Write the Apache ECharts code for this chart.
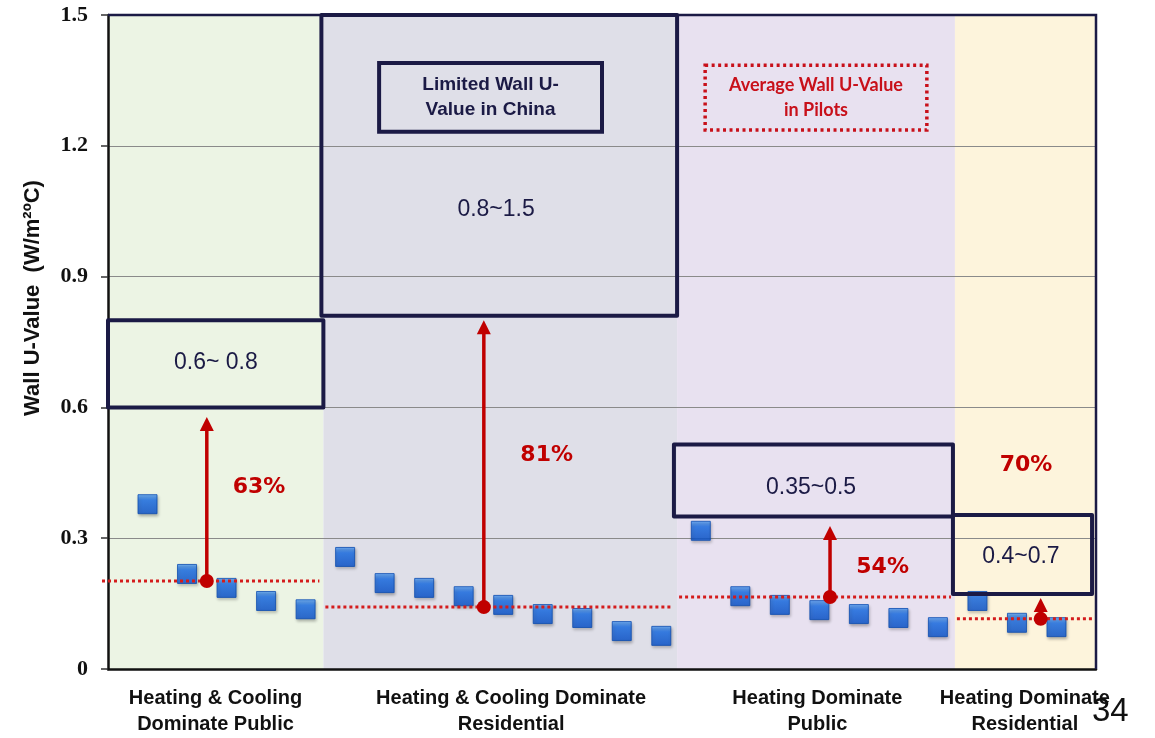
<!DOCTYPE html>
<html>
<head>
<meta charset="utf-8">
<script src="https://cdn.jsdelivr.net/npm/echarts@6/dist/echarts.min.js"></script>
<style>
  html, body { margin: 0; padding: 0; background: #ffffff; }
  #chart { width: 1155px; height: 738px; }
</style>
</head>
<body>
<div id="chart"></div>
<script>
// Building groups along the x axis (pilot index space)
const groupNames = [
  'Heating & Cooling\nDominate Public',
  'Heating & Cooling Dominate\nResidential',
  'Heating Dominate\nPublic',
  'Heating Dominate\nResidential'
];
const groupStart = [0, 5.45, 14.4, 21.43];
const groupEnd = [5.45, 14.4, 21.43, 25];
const groupLabelX = [2.72, 10.2, 17.95, 23.2];

// Wall U-value of each pilot building (W/m²ºC)
const hcPublic = [0.378, 0.218, 0.186, 0.156, 0.137];
const hcResidential = [0.257, 0.197, 0.186, 0.167, 0.147, 0.126, 0.117, 0.087, 0.076];
const hPublic = [0.317, 0.167, 0.147, 0.135, 0.126, 0.117, 0.096];
const hResidential = [0.156, 0.106, 0.096];

// Average pilot U-value of each group
const pilotAverage = [0.202, 0.142, 0.165, 0.115];

// Limited wall U-value ranges in China
const limitLabels = ['0.6~ 0.8', '0.8~1.5', '0.35~0.5', '0.4~0.7'];
const limitFrom = [0, 5.4, 14.32, 21.38];
const limitTo = [5.45, 14.4, 21.38, 24.9];
const limitLow = [0.6, 0.81, 0.35, 0.172];
const limitHigh = [0.8, 1.5, 0.515, 0.353];
const limitLabelX = [2.73, 9.82, 17.79, 23.1];
const limitLabelY = [0.702, 1.053, 0.417, 0.257];

// Reduction from the limit down to the pilot average
const reductionLabels = ['63%', '81%', '54%', '70%'];
const arrowX = [2.5, 9.51, 18.27, 23.6];
const arrowTop = [0.578, 0.80, 0.328, 0.163];
const reductionLabelX = [3.82, 11.1, 19.6, 23.23];
const reductionLabelY = [0.417, 0.491, 0.234, 0.468];

// Key boxes
const noteTexts = ['Limited Wall U-\nValue in China', 'Average Wall U-Value\nin Pilots'];
const noteFrom = [6.86, 15.11];
const noteTo = [12.5, 20.72];
const noteTop = [1.39, 1.385];
const noteBottom = [1.232, 1.236];

// Y axis ticks
const yMin = 0, yMax = 1.5, yStep = 0.3;
const xMin = 0, xMax = 25;

const regionColors = ['#ecf4e4', '#dfdfe8', '#e8e1f0', '#fdf4dc'];
const NAVY = '#1b1a45';
const RED = '#c00000';

const uGroups = [hcPublic, hcResidential, hPublic, hResidential];
const pilotPoints = [];
let k = 1;
uGroups.forEach(g => g.forEach(v => { pilotPoints.push([k, v]); k += 1; }));

const idx = arr => arr.map((_, i) => [i, 0]);

const chart = echarts.init(document.getElementById('chart'));

chart.setOption({
  animation: false,
  backgroundColor: '#ffffff',
  grid: { left: 108, right: 59, top: 15, bottom: 69 },
  xAxis: {
    type: 'value', min: xMin, max: xMax, z: 3,
    axisLine: { show: true, onZero: false, lineStyle: { color: '#111', width: 2.5 } },
    axisTick: { show: false }, axisLabel: { show: false }, splitLine: { show: false }
  },
  yAxis: {
    type: 'value', min: yMin, max: yMax, interval: yStep, z: 3,
    axisLine: { show: true, lineStyle: { color: '#111', width: 2.5 } },
    axisTick: { show: true, length: 7, lineStyle: { color: '#333', width: 1.5 } },
    axisLabel: {
      margin: 20, color: '#111',
      fontFamily: 'Liberation Serif', fontWeight: 'bold', fontSize: 22
    },
    splitLine: { show: true, lineStyle: { color: '#8a8a8a', width: 1.2 } }
  },
  graphic: [
    {
      type: 'text', x: 33, y: 298, rotation: Math.PI / 2,
      style: {
        text: 'Wall U-Value  (W/m²ºC)', align: 'center', verticalAlign: 'middle',
        font: 'bold 22px "Liberation Sans"', fill: '#111'
      }
    },
    {
      type: 'text', left: 1092, top: 695,
      style: { text: '34', font: '33px "Liberation Sans"', fill: '#111' }
    }
  ],
  series: [
    {
      // group background bands
      type: 'custom', z: 1, silent: true,
      data: idx(groupStart),
      encode: { x: -1, y: -1 },
      renderItem: (params, api) => {
        const i = params.dataIndex;
        const p0 = api.coord([groupStart[i], yMax]);
        const p1 = api.coord([groupEnd[i], yMin]);
        return {
          type: 'rect',
          shape: { x: p0[0], y: p0[1], width: p1[0] - p0[0], height: p1[1] - p0[1] },
          style: { fill: regionColors[i] }
        };
      }
    },
    {
      // plot frame, top and right
      type: 'custom', z: 4, silent: true,
      data: [[0, 0]],
      encode: { x: -1, y: -1 },
      renderItem: (params, api) => {
        const a = api.coord([xMin, yMax]);
        const b = api.coord([xMax, yMax]);
        const c = api.coord([xMax, yMin]);
        return {
          type: 'polyline',
          shape: { points: [a, b, c] },
          style: { stroke: NAVY, lineWidth: 2.5, fill: 'none' }
        };
      }
    },
    {
      // pilot buildings
      type: 'scatter', z: 5,
      data: pilotPoints,
      symbol: 'rect', symbolSize: 19,
      itemStyle: {
        color: new echarts.graphic.LinearGradient(0, 0, 0, 1, [
          { offset: 0, color: '#5aa8ff' },
          { offset: 0.3, color: '#1a70ec' },
          { offset: 1, color: '#0a54d0' }
        ]),
        borderColor: '#0d4cb0', borderWidth: 1,
        shadowBlur: 3, shadowColor: 'rgba(0,0,0,0.35)', shadowOffsetX: 1, shadowOffsetY: 2
      }
    },
    {
      // pilot average lines
      type: 'custom', z: 6, silent: true,
      data: idx(pilotAverage),
      encode: { x: -1, y: -1 },
      renderItem: (params, api) => {
        const i = params.dataIndex;
        const a = api.coord([groupStart[i], pilotAverage[i]]);
        const b = api.coord([groupEnd[i], pilotAverage[i]]);
        return {
          type: 'line',
          shape: { x1: a[0] + (i === 0 ? -6 : 2), y1: a[1], x2: b[0] - 4, y2: b[1] },
          style: { stroke: '#d41c1c', lineWidth: 3, lineDash: [3, 3] }
        };
      }
    },
    {
      // limit range boxes
      type: 'custom', z: 7, silent: true,
      data: idx(limitLabels),
      encode: { x: -1, y: -1 },
      renderItem: (params, api) => {
        const i = params.dataIndex;
        const p0 = api.coord([limitFrom[i], limitHigh[i]]);
        const p1 = api.coord([limitTo[i], limitLow[i]]);
        const t = api.coord([limitLabelX[i], limitLabelY[i]]);
        return {
          type: 'group',
          children: [
            {
              type: 'rect',
              shape: { x: p0[0], y: p0[1], width: p1[0] - p0[0], height: p1[1] - p0[1] },
              style: { fill: 'none', stroke: NAVY, lineWidth: 4, lineJoin: 'round' }
            },
            {
              type: 'text',
              style: {
                text: limitLabels[i], x: t[0], y: t[1], align: 'center', verticalAlign: 'middle',
                font: '23px "Liberation Sans"', fill: NAVY
              }
            }
          ]
        };
      }
    },
    {
      // reduction arrows
      type: 'custom', z: 8, silent: true,
      data: idx(arrowX),
      encode: { x: -1, y: -1 },
      renderItem: (params, api) => {
        const i = params.dataIndex;
        const base = api.coord([arrowX[i], pilotAverage[i]]);
        const tip = api.coord([arrowX[i], arrowTop[i]]);
        const headH = 14, headW = 7;
        return {
          type: 'group',
          children: [
            {
              type: 'line',
              shape: { x1: base[0], y1: base[1], x2: tip[0], y2: tip[1] + headH - 1 },
              style: { stroke: RED, lineWidth: 3.5 }
            },
            {
              type: 'polygon',
              shape: { points: [[tip[0], tip[1]], [tip[0] - headW, tip[1] + headH], [tip[0] + headW, tip[1] + headH]] },
              style: { fill: RED }
            },
            {
              type: 'circle',
              shape: { cx: base[0], cy: base[1], r: 7 },
              style: { fill: RED }
            }
          ]
        };
      }
    },
    {
      // reduction percentages
      type: 'custom', z: 8, silent: true,
      data: idx(reductionLabels),
      encode: { x: -1, y: -1 },
      renderItem: (params, api) => {
        const i = params.dataIndex;
        const p = api.coord([reductionLabelX[i], reductionLabelY[i]]);
        return {
          type: 'text',
          style: {
            text: reductionLabels[i], x: p[0], y: p[1], align: 'center', verticalAlign: 'middle',
            font: 'bold 22px "DejaVu Sans"', fill: RED
          }
        };
      }
    },
    {
      // key boxes
      type: 'custom', z: 8, silent: true,
      data: idx(noteTexts),
      encode: { x: -1, y: -1 },
      renderItem: (params, api) => {
        const i = params.dataIndex;
        const p0 = api.coord([noteFrom[i], noteTop[i]]);
        const p1 = api.coord([noteTo[i], noteBottom[i]]);
        const solid = i === 0;
        return {
          type: 'group',
          children: [
            {
              type: 'rect',
              shape: { x: p0[0], y: p0[1], width: p1[0] - p0[0], height: p1[1] - p0[1] },
              style: solid
                ? { fill: 'none', stroke: NAVY, lineWidth: 4 }
                : { fill: 'none', stroke: '#c8101a', lineWidth: 3.5, lineDash: [3, 3.5] }
            },
            {
              type: 'text',
              style: {
                text: noteTexts[i], x: (p0[0] + p1[0]) / 2, y: (p0[1] + p1[1]) / 2,
                align: 'center', verticalAlign: 'middle', lineHeight: 25,
                font: solid ? 'bold 19px "Liberation Sans"' : 'bold 18px Lato',
                fill: solid ? NAVY : '#c8101a'
              }
            }
          ]
        };
      }
    },
    {
      // group names under the x axis
      type: 'custom', z: 8, silent: true,
      data: idx(groupNames),
      encode: { x: -1, y: -1 },
      renderItem: (params, api) => {
        const i = params.dataIndex;
        const p = api.coord([groupLabelX[i], yMin]);
        return {
          type: 'text',
          style: {
            text: groupNames[i], x: p[0], y: p[1] + 16, align: 'center', verticalAlign: 'top',
            lineHeight: 26, font: 'bold 20px "Liberation Sans"', fill: '#111'
          }
        };
      }
    }
  ]
});
</script>
</body>
</html>
